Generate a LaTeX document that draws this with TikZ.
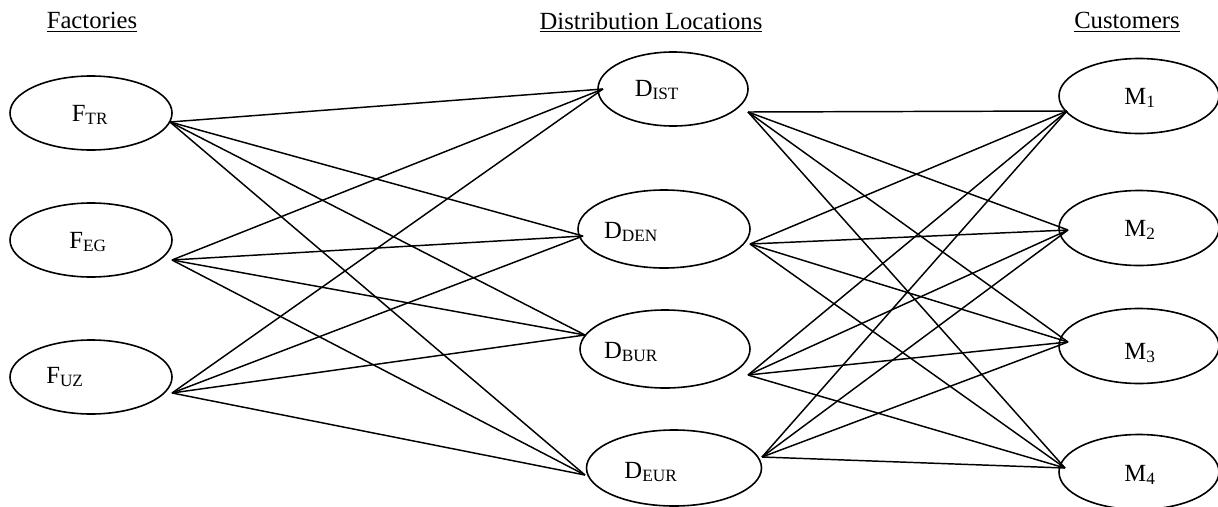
\documentclass[tikz,border=0pt]{standalone}
\usepackage{fontspec}
\setmainfont{Liberation Serif}
\usetikzlibrary{shapes.geometric}
\begin{document}
\begin{tikzpicture}[x=0.75pt,y=-0.75pt,
  ell/.style={draw,ellipse,line width=1.2pt,inner sep=0pt,minimum width=#1*0.75pt},
  ell/.default=162,
  lbl/.style={font=\fontsize{18.5}{22}\selectfont,inner sep=0pt},
  ttl/.style={font=\fontsize{18.5}{22}\selectfont,inner sep=0pt},
  conn/.style={line width=1.1pt}]
\useasboundingbox (0,0) rectangle (1218,507);
% titles
\node[ttl] (tF) at (92,22) {\underline{Factories}};
\node[ttl] (tD) at (651,22) {\underline{Distribution Locations}};
\node[ttl] (tM) at (1127,22) {\underline{Customers}};
% ellipses
\node[ell=162,minimum height=74*0.75pt] (FTR) at (91,113) {};
\node[ell=162,minimum height=74*0.75pt] (FEG) at (91,240) {};
\node[ell=162,minimum height=74*0.75pt] (FUZ) at (91,377) {};
\node[ell=150,minimum height=74*0.75pt] (DIST) at (673,89) {};
\node[ell=172,minimum height=78*0.75pt] (DDEN) at (664,229) {};
\node[ell=170,minimum height=78*0.75pt] (DBUR) at (665,349) {};
\node[ell=175,minimum height=76*0.75pt] (DEUR) at (674,468) {};
\node[ell=160,minimum height=75*0.75pt] (M1) at (1139,96) {};
\node[ell=160,minimum height=75*0.75pt] (M2) at (1139,228) {};
\node[ell=160,minimum height=75*0.75pt] (M3) at (1139,346) {};
\node[ell=160,minimum height=75*0.75pt] (M4) at (1139,472) {};
% labels
\node[lbl] (FTRt) at (90,115) {F\textsubscript{TR}};
\node[lbl] (FEGt) at (88,242) {F\textsubscript{EG}};
\node[lbl] (FUZt) at (65,377) {F\textsubscript{UZ}};
\node[lbl] (DISTt) at (657,90) {D\textsubscript{IST}};
\node[lbl] (DDENt) at (631,232) {D\textsubscript{DEN}};
\node[lbl] (DBURt) at (631,352) {D\textsubscript{BUR}};
\node[lbl] (DEURt) at (651,472) {D\textsubscript{EUR}};
\node[lbl] (M1t) at (1140,98) {M\textsubscript{1}};
\node[lbl] (M2t) at (1140,230) {M\textsubscript{2}};
\node[lbl] (M3t) at (1140,353) {M\textsubscript{3}};
\node[lbl] (M4t) at (1140,475) {M\textsubscript{4}};
% connection points
\coordinate (FTRo) at (170,122);
\coordinate (FEGo) at (172,260);
\coordinate (FUZo) at (172,393);
\coordinate (DISTi) at (603,89);
\coordinate (DISTo) at (748,112);
\coordinate (DDENi) at (583,236);
\coordinate (DDENo) at (750,244);
\coordinate (DBURi) at (585,335);
\coordinate (DBURo) at (748,375);
\coordinate (DEURi) at (585,475);
\coordinate (DEURo) at (762,457);
\coordinate (M1i) at (1067,111);
\coordinate (M2i) at (1068,230);
\coordinate (M3i) at (1068,342);
\coordinate (M4i) at (1065,468);
% connectors
\foreach \f in {FTR,FEG,FUZ}{
  \foreach \d in {DIST,DDEN,DBUR,DEUR}{
    \draw[conn] (\f o) -- (\d i);
  }
}
\foreach \d in {DIST,DDEN,DBUR,DEUR}{
  \foreach \m in {M1,M2,M3,M4}{
    \draw[conn] (\d o) -- (\m i);
  }
}
\end{tikzpicture}
\end{document}
